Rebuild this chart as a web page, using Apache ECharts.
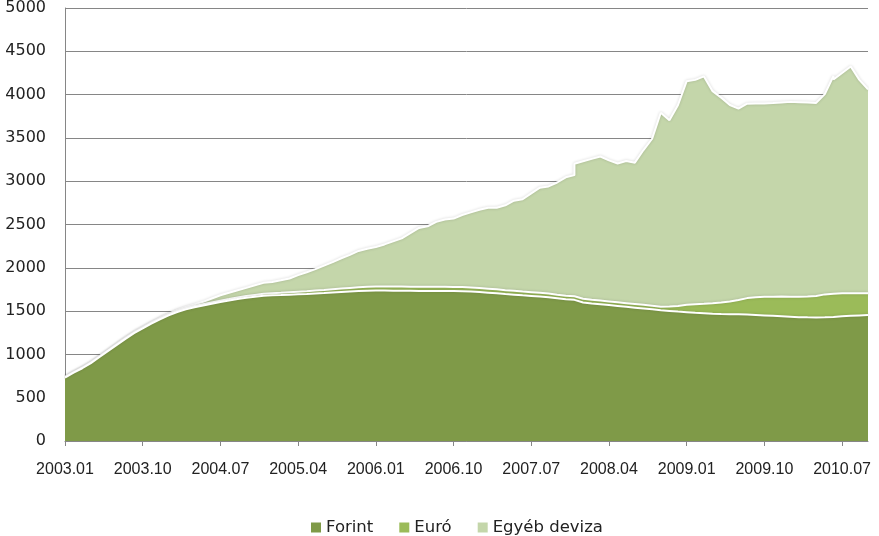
<!DOCTYPE html>
<html>
<head>
<meta charset="utf-8">
<script src="https://cdn.jsdelivr.net/npm/echarts@6/dist/echarts.min.js"></script>
<style>html,body{margin:0;padding:0;background:#fff}#c{width:879px;height:536px}</style>
</head>
<body>
<div id="c"></div>
<script>
// Monthly periods (2007.12 and 2010.06 appear twice: statistical breaks)
const firstYear = 2003;
const monthCount = 94; // 2003.01 .. 2010.10
const months = [];
for (let i = 0; i < monthCount; i++) {
  const y = firstYear + Math.floor(i / 12), m = (i % 12) + 1;
  months.push(y + '.' + (m < 10 ? '0' + m : m));
}
const breakPeriods = ['2007.12', '2010.06'];
const periods = [];
months.forEach(m => { periods.push(m); if (breakPeriods.includes(m)) periods.push(m); });

const tickLabels = ['2003.01','2003.10','2004.07','2005.04','2006.01','2006.10','2007.07','2008.04','2009.01','2009.10','2010.07'];
const yTicks = [0,500,1000,1500,2000,2500,3000,3500,4000,4500,5000];

const forint = [733,790,840,900,970,1040,1110,1180,1245,1300,
1355,1405,1450,1490,1520,1545,1565,1585,1605,1622,
1640,1655,1667,1677,1683,1686,1690,1694,1698,1703,
1708,1714,1720,1726,1731,1735,1737,1737,1736,1735,
1734,1733,1732,1732,1732,1731,1729,1725,1720,1713,
1705,1697,1690,1682,1675,1668,1660,1648,1636,1630,
1610,1600,1588,1580,1570,1560,1550,1540,1530,1520,
1510,1502,1494,1487,1480,1475,1470,1467,1465,1464,
1460,1455,1450,1445,1440,1435,1430,1428,1427,1428,
1433,1433,1440,1445,1450,1455];

const euro = [3,3,4,4,5,5,6,6,7,7,
8,9,10,11,12,13,14,15,16,17,
18,19,20,22,24,26,28,30,32,34,
36,38,40,42,44,46,47,48,48,48,
48,48,48,48,48,48,48,47,47,46,
46,45,45,44,44,43,43,42,42,42,
42,42,42,42,42,42,42,42,42,42,
40,50,65,85,100,110,122,133,145,165,
190,205,215,222,228,232,236,240,248,265,
268,268,265,260,255,250];

const egyeb = [5,5,5,5,6,6,6,7,7,8,
8,9,10,12,15,20,28,45,62,72,
83,94,111,127,130,144,159,192,219,248,
281,313,350,382,420,439,456,485,521,557,
618,679,700,750,778,789,833,868,903,934,
942,980,1040,1066,1141,1214,1237,1295,1367,1398,
1550,1588,1628,1663,1628,1603,1641,1632,1788,1928,
2240,2153,2321,2583,2590,2625,2448,2365,2270,2209,
2245,2237,2233,2235,2242,2249,2246,2240,2229,2312,
2514,2474,2545,2620,2465,2355];

const seriesNames = ['Forint', 'Euró', 'Egyéb deviza'];
const colors = ['#7F9A48', '#9BBB59', '#C4D6AA'];

// rows are [value, monthIndex]; value column first so the stack acts on it
const toRows = vals => periods.map((p, k) => [vals[k], months.indexOf(p)]);
const tickIdx = tickLabels.map(t => months.indexOf(t));

const chart = echarts.init(document.getElementById('c'), null, {renderer: 'canvas'});
const mk = (name, vals, color, z) => ({
  name, type: 'line', stack: 'total', data: toRows(vals),
  encode: {x: 1, y: 0},
  showSymbol: false, symbol: 'none',
  z,
  lineStyle: {color: '#ffffff', width: 2, shadowColor: 'rgba(0,0,0,0.18)', shadowBlur: 3},
  areaStyle: {color, opacity: 1},
  itemStyle: {color},
  emphasis: {disabled: true}
});
chart.setOption({
  animation: false,
  color: colors,
  grid: {left: 65, right: 11, top: 8, bottom: 95, containLabel: false},
  legend: {
    top: 519, left: 311, padding: 0, itemWidth: 10, itemHeight: 10, itemGap: 26,
    icon: 'rect',
    textStyle: {fontFamily: 'DejaVu Sans', fontSize: 16.5, color: '#222'},
    data: seriesNames
  },
  xAxis: {
    type: 'value', min: 0, max: monthCount - 1,
    axisLine: {show: true, lineStyle: {color: '#868686', width: 1}},
    axisTick: {show: true, length: 5, customValues: tickIdx, lineStyle: {color: '#868686'}},
    axisLabel: {
      customValues: tickIdx, margin: 21,
      fontFamily: 'Liberation Sans', fontSize: 16, color: '#222',
      formatter: v => months[Math.round(v)]
    },
    splitLine: {show: false}
  },
  yAxis: {
    type: 'value', min: 0, max: 5000, interval: 500,
    axisLine: {show: true, lineStyle: {color: '#868686', width: 1}},
    axisTick: {show: false},
    axisLabel: {margin: 19, fontFamily: 'DejaVu Sans', fontSize: 16, color: '#222',
      formatter: v => yTicks.includes(v) ? String(v) : ''},
    splitLine: {show: true, lineStyle: {color: '#868686', width: 1}}
  },
  series: [
    mk(seriesNames[0], forint, colors[0], 5),
    mk(seriesNames[1], euro, colors[1], 4),
    mk(seriesNames[2], egyeb, colors[2], 3)
  ]
});
</script>
</body>
</html>
